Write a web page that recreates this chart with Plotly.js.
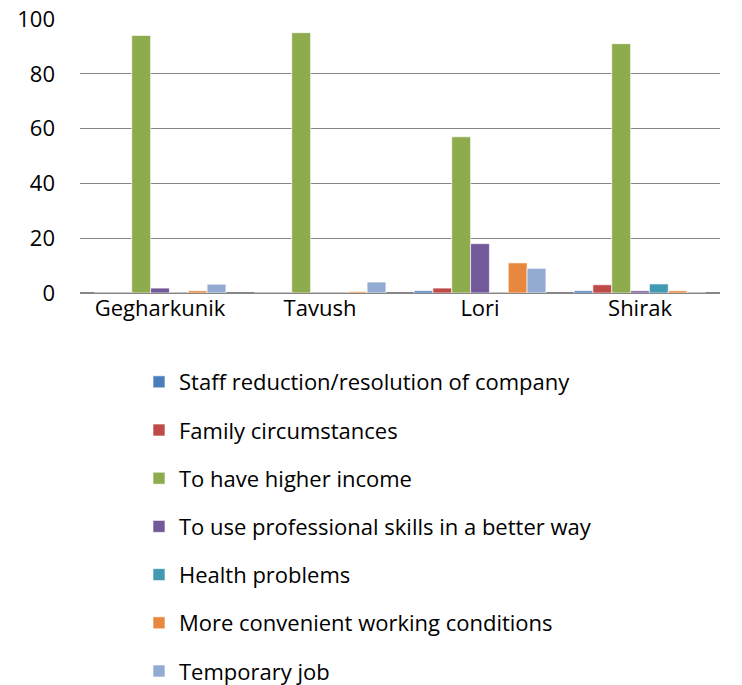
<!DOCTYPE html>
<html>
<head>
<meta charset="utf-8">
<script src="https://cdn.plot.ly/plotly-3.0.1.min.js"></script>
<style>html,body{margin:0;padding:0;background:#fff;}#chart{width:742px;height:685px;}</style>
</head>
<body>
<div id="chart"></div>
<script>
const categories = ["Gegharkunik", "Tavush", "Lori", "Shirak"];
const seriesNames = [
  "Staff reduction/resolution of company",
  "Family circumstances",
  "To have higher income",
  "To use professional skills in a better way",
  "Health problems",
  "More convenient working conditions",
  "Temporary job"
];
const staffReduction = [0, 0, 0.8, 0.8];
const familyCircumstances = [0, 0, 1.8, 3];
const higherIncome = [94, 95, 57, 91];
const professionalSkills = [1.8, 0, 18, 0.8];
const healthProblems = [0, 0, 0, 3.3];
const workingConditions = [0.8, 0.5, 11, 0.8];
const temporaryJob = [3.2, 4, 9, 0];
const seriesValues = [staffReduction, familyCircumstances, higherIncome, professionalSkills, healthProblems, workingConditions, temporaryJob];
const colors = ["#4A7EBB", "#BE4B48", "#8EAB4E", "#74599A", "#4199B2", "#E8883E", "#93AAD3"];

const traces = seriesNames.map((name, i) => ({
  type: "bar",
  name: name,
  x: categories,
  y: seriesValues[i],
  legendgroup: "g" + i,
  marker: {color: colors[i], line: {color: "rgba(255,255,255,0.8)", width: 0.8}},
  hoverinfo: "none"
}));

const fontFam = "'Open Sans', Lato, sans-serif";
const layout = {
  width: 742, height: 685,
  margin: {l: 80, r: 22, t: 19, b: 392, autoexpand: false},
  paper_bgcolor: "#fff", plot_bgcolor: "#fff",
  font: {family: fontFam, size: 22, color: "#000"},
  barmode: "group",
  bargap: 0.176,
  bargroupgap: 0,
  showlegend: true,
  legend: {
    orientation: "v",
    xref: "container", yref: "container",
    x: 139 / 742, xanchor: "left",
    y: 1 - 361 / 685, yanchor: "top",
    tracegroupgap: 16.6,
    font: {family: fontFam, size: 22, color: "#000"},
    bgcolor: "rgba(0,0,0,0)"
  },
  xaxis: {
    showline: false, ticks: "", showgrid: false, zeroline: false,
    tickfont: {size: 22}, automargin: false
  },
  yaxis: {
    range: [0, 100], dtick: 20, tick0: 0,
    showgrid: true, gridcolor: "#868686", gridwidth: 1.3,
    zeroline: true, zerolinecolor: "#868686", zerolinewidth: 1.5,
    showline: false, ticks: "", ticklabelstandoff: 24,
    tickfont: {size: 22}, automargin: false
  }
};

Plotly.newPlot("chart", traces, layout, {staticPlot: true, displayModeBar: false});
</script>
</body>
</html>
